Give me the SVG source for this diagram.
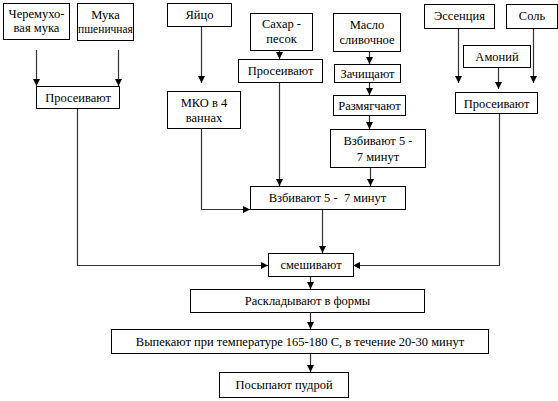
<svg xmlns="http://www.w3.org/2000/svg" width="558" height="401" viewBox="0 0 558 401">
<defs>
<marker id="ah" markerWidth="7" markerHeight="7" refX="7" refY="3.5" orient="auto" markerUnits="userSpaceOnUse">
<path d="M0,0 L7,3.5 L0,7 z" fill="#000"/>
</marker>
<style>
rect{fill:#fff;stroke:#000;stroke-width:1}
text{font-family:"Liberation Serif","Times New Roman",serif;font-size:12.5px;fill:#000;text-anchor:middle}
text.s{font-size:11.5px}
.c{fill:none;stroke:#333;stroke-width:1.2;marker-end:url(#ah)}
</style>
</defs>
<rect x="0" y="0" width="558" height="401" style="fill:#fff;stroke:none"/>
<g id="connectors">
<path class="c" d="M36.5,50 V86"/>
<path class="c" d="M118.5,50 V86"/>
<path class="c" d="M201.5,26 V83"/>
<path class="c" d="M279.5,50 V59"/>
<path class="c" d="M279.5,82 V186"/>
<path class="c" d="M369.5,51 V64"/>
<path class="c" d="M369.5,82 V95"/>
<path class="c" d="M369.5,115 V129"/>
<path class="c" d="M370.5,167 V186"/>
<path class="c" d="M201.5,128 V209.5 H250"/>
<path class="c" d="M458.5,28 V83"/>
<path class="c" d="M498.5,67 V89"/>
<path class="c" d="M533.5,28 V83"/>
<path class="c" d="M499.5,113 V265.5 H353"/>
<path class="c" d="M77.5,108 V265.5 H268"/>
<path class="c" d="M322.5,209 V253"/>
<path class="c" d="M310.5,276 V289"/>
<path class="c" d="M310.5,312 V329"/>
<path class="c" d="M310.5,353 V372"/>
</g>
<g id="n-cheremukha"><rect x="3.5" y="3.5" width="66" height="36"/><text x="36.5" y="18">Черемухо-</text><text x="36.5" y="32">вая мука</text></g>
<g id="n-muka"><rect x="77.5" y="3.5" width="56" height="37"/><text x="105.5" y="19">Мука</text><text class="s" x="105.5" y="33">пшеничная</text></g>
<g id="n-yaitso"><rect x="167.5" y="3.5" width="64" height="23"/><text x="199.5" y="19">Яйцо</text></g>
<g id="n-sakhar"><rect x="250.5" y="13.5" width="62" height="37"/><text x="281.5" y="28">Сахар -</text><text x="281.5" y="43">песок</text></g>
<g id="n-proseiv-sakhar"><rect x="238.5" y="59.5" width="84" height="23"/><text x="280.5" y="75">Просеивают</text></g>
<g id="n-maslo"><rect x="333.5" y="13.5" width="67" height="38"/><text x="367" y="29">Масло</text><text x="367" y="44">сливочное</text></g>
<g id="n-zachishch"><rect x="334.5" y="64.5" width="66" height="18"/><text x="367.5" y="77.5">Зачищают</text></g>
<g id="n-razmyag"><rect x="333.5" y="95.5" width="72" height="20"/><text x="369.5" y="110">Размягчают</text></g>
<g id="n-vzbiv-small"><rect x="330.5" y="129.5" width="95" height="38"/><text x="378" y="145">Взбивают 5 -</text><text x="378" y="161">7 минут</text></g>
<g id="n-essentsiya"><rect x="424.5" y="4.5" width="70" height="24"/><text x="459.5" y="20">Эссенция</text></g>
<g id="n-sol"><rect x="506.5" y="4.5" width="51" height="24"/><text x="532" y="20">Соль</text></g>
<g id="n-amoniy"><rect x="463.5" y="45.5" width="67" height="22"/><text x="497" y="61">Амоний</text></g>
<g id="n-proseiv-right"><rect x="455.5" y="92.5" width="82" height="21"/><text x="496.5" y="107.5">Просеивают</text></g>
<g id="n-proseiv-left"><rect x="36.5" y="86.5" width="83" height="22"/><text x="78" y="101.5">Просеивают</text></g>
<g id="n-mko"><rect x="167.5" y="91.5" width="73" height="37"/><text x="204" y="107">МКО в 4</text><text x="204" y="122">ваннах</text></g>
<g id="n-vzbiv-big"><rect x="250.5" y="186.5" width="155" height="23"/><text x="327.5" y="202" xml:space="preserve">Взбивают 5 -  7 минут</text></g>
<g id="n-smeshiv"><rect x="268.5" y="253.5" width="85" height="23"/><text x="311" y="269">смешивают</text></g>
<g id="n-raskl"><rect x="190.5" y="289.5" width="234" height="23"/><text x="307.5" y="305">Раскладывают в формы</text></g>
<g id="n-vypek"><rect x="111.5" y="329.5" width="377" height="24"/><text x="300" y="345.5">Выпекают при температуре 165-180 С, в течение 20-30 минут</text></g>
<g id="n-posyp"><rect x="219.5" y="372.5" width="129" height="25"/><text x="284" y="389">Посыпают пудрой</text></g>
</svg>
